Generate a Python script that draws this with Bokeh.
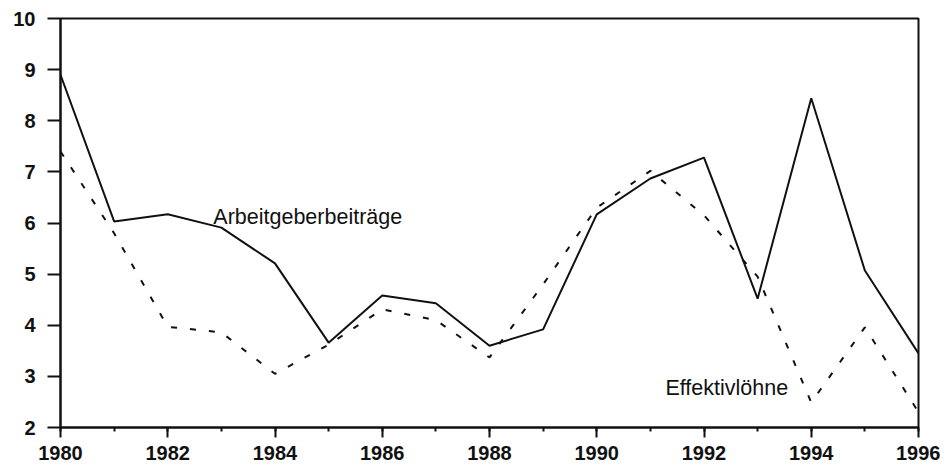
from bokeh.plotting import figure
from bokeh.models import Range1d, SingleIntervalTicker, FixedTicker, Label
from bokeh.embed import file_html
from bokeh.resources import INLINE

years = list(range(1980, 1997))
arbeitgeberbeitraege = [8.9, 6.03, 6.17, 5.91, 5.21, 3.66, 4.58, 4.43, 3.60, 3.92,
                        6.17, 6.87, 7.28, 4.52, 8.44, 5.07, 3.45]
effektivloehne = [7.4, 5.8, 3.97, 3.86, 3.05, 3.62, 4.31, 4.10, 3.37, 4.80,
                  6.30, 7.02, 6.15, 4.95, 2.49, 3.96, 2.30]
y_ticks = [2, 3, 4, 5, 6, 7, 8, 9, 10]
label_a = "Arbeitgeberbeiträge"
label_e = "Effektivlöhne"

p = figure(width=940, height=468, output_backend="svg", toolbar_location=None,
           x_range=Range1d(1980, 1996), y_range=Range1d(2, 10),
           min_border_left=60, min_border_top=18, min_border_right=22, min_border_bottom=41)
p.grid.visible = False
p.outline_line_color = "#111111"
p.outline_line_width = 2
p.background_fill_color = "white"
p.border_fill_color = "white"

p.line(years, arbeitgeberbeitraege, line_color="#111111", line_width=2)
p.line(years, effektivloehne, line_color="#111111", line_width=2, line_dash="6 13")

font = "Liberation Sans"
p.add_layout(Label(x=1982.85, y=6.11, text=label_a, text_font=font, text_font_size="21.5px",
                   text_color="#111111", text_baseline="alphabetic"))
p.add_layout(Label(x=1991.28, y=2.78, text=label_e, text_font=font, text_font_size="21.5px",
                   text_color="#111111", text_baseline="alphabetic"))

xa = p.xaxis[0]
xa.ticker = SingleIntervalTicker(interval=2, num_minor_ticks=2)
xa.axis_line_color = "#111111"
xa.axis_line_width = 2
xa.major_tick_line_color = "#111111"
xa.major_tick_line_width = 2
xa.major_tick_out = 10
xa.major_tick_in = 0
xa.minor_tick_line_color = "#111111"
xa.minor_tick_line_width = 2
xa.minor_tick_out = 4
xa.minor_tick_in = 0
xa.major_label_text_font = font
xa.major_label_text_font_style = "bold"
xa.major_label_text_font_size = "20px"
xa.major_label_text_color = "#111111"
xa.major_label_standoff = 8

ya = p.yaxis[0]
ya.ticker = FixedTicker(ticks=y_ticks)
ya.axis_line_color = "#111111"
ya.axis_line_width = 2
ya.major_tick_line_color = "#111111"
ya.major_tick_line_width = 2
ya.major_tick_out = 13
ya.major_tick_in = 0
ya.minor_tick_line_color = None
ya.major_label_text_font = font
ya.major_label_text_font_style = "bold"
ya.major_label_text_font_size = "20px"
ya.major_label_text_color = "#111111"
ya.major_label_standoff = 12

open("out.html", "w").write(file_html(p, INLINE))
